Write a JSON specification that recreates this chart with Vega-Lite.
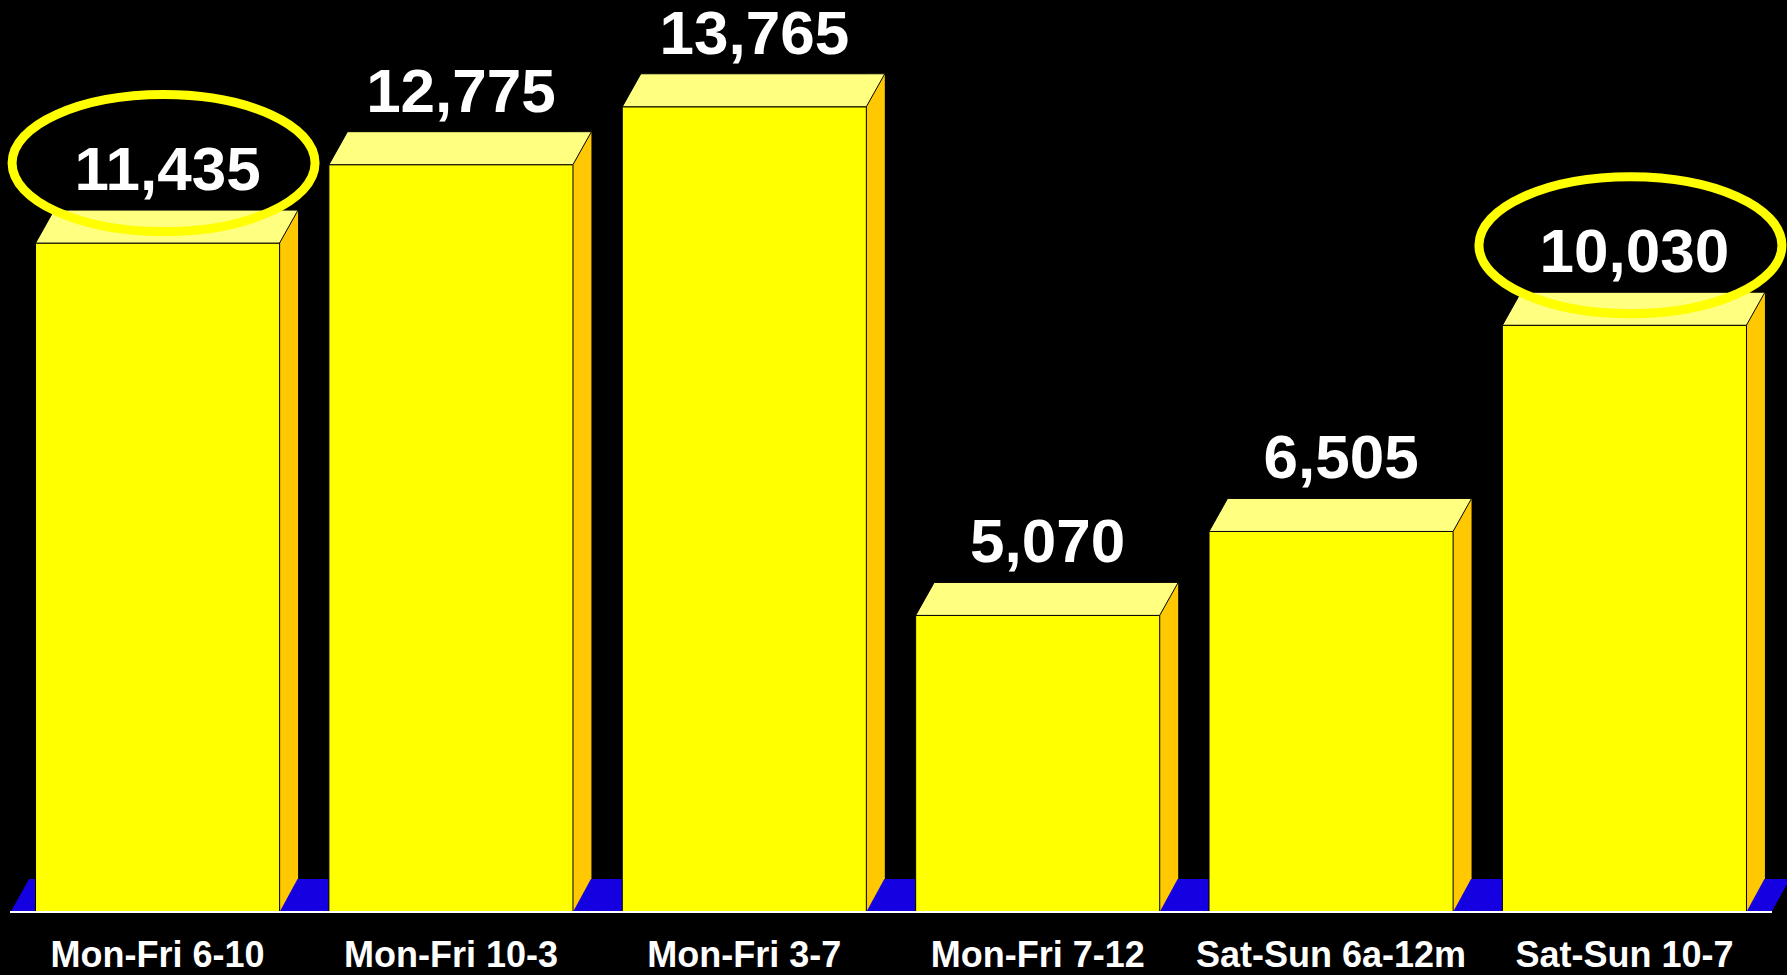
{
  "$schema": "https://vega.github.io/schema/vega-lite/v6.json",
  "width": 1762,
  "height": 900,
  "autosize": {"type": "none"},
  "padding": {"left": 10, "top": 12, "right": 15, "bottom": 63},
  "background": "#000000",
  "config": {"view": {"stroke": null}},
  "data": {
    "values": [
      {"slot": "Mon-Fri 6-10", "listeners": 11435, "circled": true},
      {"slot": "Mon-Fri 10-3", "listeners": 12775, "circled": false},
      {"slot": "Mon-Fri 3-7", "listeners": 13765, "circled": false},
      {"slot": "Mon-Fri 7-12", "listeners": 5070, "circled": false},
      {"slot": "Sat-Sun 6a-12m", "listeners": 6505, "circled": false},
      {"slot": "Sat-Sun 10-7", "listeners": 10030, "circled": true}
    ]
  },
  "encoding": {
    "x": {
      "field": "slot",
      "type": "nominal",
      "sort": null,
      "scale": {"type": "band", "paddingInner": 0.168, "paddingOuter": 0.087},
      "axis": {
        "title": null,
        "domain": false,
        "ticks": false,
        "grid": false,
        "labelAngle": 0,
        "labelFont": "Liberation Sans",
        "labelFontWeight": "bold",
        "labelFontSize": 36,
        "labelColor": "#FFFFFF",
        "labelBaseline": "alphabetic",
        "labelPadding": 54,
        "labelLimit": 0
      }
    }
  },
  "layer": [
    {
      "mark": {"type": "point", "shape": "M -147 0 L 147 0 L 165.5 -33 L -128.5 -33 Z", "size": 4, "filled": true, "fill": "#1400E0", "strokeWidth": 0, "opacity": 1},
      "encoding": {"y": {"datum": 0, "type": "quantitative", "scale": {"domain": [0, 15385], "nice": false, "zero": true}, "axis": null}}
    },
    {
      "mark": {"type": "rule", "strokeWidth": 18.5, "strokeCap": "butt", "color": "#FFC800", "xOffset": 131.25, "yOffset": -33, "y2Offset": -33},
      "encoding": {
        "y": {"field": "listeners", "type": "quantitative"},
        "y2": {"datum": 0}
      }
    },
    {
      "mark": {"type": "point", "shape": "M 122 0 L 122 -34 L 140.5 -34 Z", "size": 4, "filled": true, "fill": "#FFC800", "strokeWidth": 0, "opacity": 1},
      "encoding": {"y": {"datum": 0, "type": "quantitative"}}
    },
    {
      "mark": {"type": "bar", "fill": "#FFFF00", "stroke": "#000000", "strokeWidth": 1},
      "encoding": {"y": {"field": "listeners", "type": "quantitative"}}
    },
    {
      "mark": {"type": "point", "shape": "M -122 0 L 122 0 L 140.5 -33 L -103.5 -33 Z", "size": 4, "filled": true, "fill": "#FFFF80", "stroke": "#000000", "strokeWidth": 1, "opacity": 1},
      "encoding": {"y": {"field": "listeners", "type": "quantitative"}}
    },
    {
      "mark": {"type": "rule", "color": "#FFFFFF", "strokeWidth": 2},
      "encoding": {"y": {"datum": 0, "type": "quantitative"}, "x": {"value": 0}, "x2": {"value": 1762}}
    },
    {
      "mark": {"type": "text", "font": "Liberation Sans", "fontWeight": "bold", "fontSize": 62, "color": "#FFFFFF", "baseline": "alphabetic", "align": "center", "dx": 10, "dy": -53},
      "encoding": {
        "y": {"field": "listeners", "type": "quantitative"},
        "text": {"field": "listeners", "type": "quantitative", "format": ","}
      }
    },
    {
      "transform": [{"filter": "datum.circled"}],
      "mark": {"type": "point", "shape": "M -151.5 0 A 151.5 68.5 0 1 1 151.5 0 A 151.5 68.5 0 1 1 -151.5 0 Z", "size": 4, "filled": false, "stroke": "#FFFF00", "strokeWidth": 9, "opacity": 1, "xOffset": 6, "yOffset": -80},
      "encoding": {"y": {"field": "listeners", "type": "quantitative"}}
    }
  ]
}
